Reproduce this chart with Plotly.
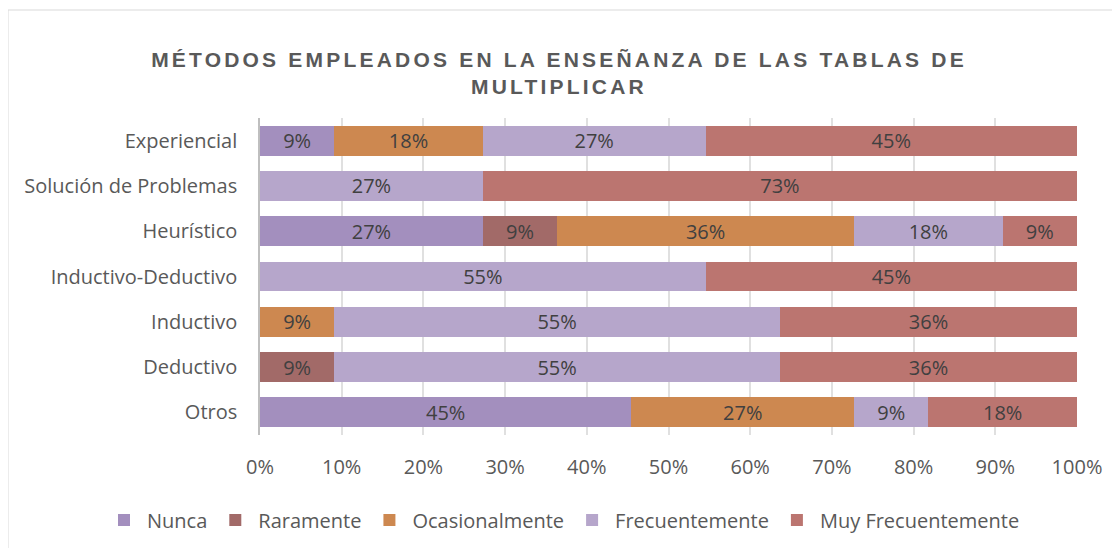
import plotly.graph_objects as go

categories = ["Experiencial", "Solución de Problemas", "Heurístico", "Inductivo-Deductivo",
              "Inductivo", "Deductivo", "Otros"]
series_names = ["Nunca", "Raramente", "Ocasionalmente", "Frecuentemente", "Muy Frecuentemente"]
nunca = [9.09, 0, 27.27, 0, 0, 0, 45.45]
raramente = [0, 0, 9.09, 0, 0, 9.09, 0]
ocasionalmente = [18.18, 0, 36.36, 0, 9.09, 0, 27.27]
frecuentemente = [27.27, 27.27, 18.18, 54.55, 54.55, 54.55, 9.09]
muy_frecuentemente = [45.45, 72.73, 9.09, 45.45, 36.36, 36.36, 18.18]
x_ticks = [0, 10, 20, 30, 40, 50, 60, 70, 80, 90, 100]
x_tick_labels = ["0%", "10%", "20%", "30%", "40%", "50%", "60%", "70%", "80%", "90%", "100%"]

colors = ["#a38fbe", "#a26a68", "#cd8850", "#b6a6cb", "#bb7570"]
all_series = [nunca, raramente, ocasionalmente, frecuentemente, muy_frecuentemente]

W, H = 1120, 548
ML, MT, PW, PH = 252, 110, 817, 317

fig = go.Figure()
for name, vals, col in zip(series_names, all_series, colors):
    fig.add_trace(go.Bar(
        y=categories, x=vals, name=name, orientation="h",
        marker=dict(color=col, line=dict(width=0)),
        text=[f"{round(v)}%" if v > 0 else "" for v in vals],
        textposition="inside", insidetextanchor="middle", textangle=0,
        insidetextfont=dict(family="Open Sans", size=20, color="#404040"),
        constraintext="none",
        hoverinfo="skip",
    ))

title_text = ('<span style="letter-spacing:3.2px"><b>MÉTODOS EMPLEADOS EN LA ENSEÑANZA DE LAS TABLAS DE'
              '<br>MULTIPLICAR</b></span>')

fig.update_layout(
    barmode="stack", bargap=0.34,
    width=W, height=H,
    paper_bgcolor="white", plot_bgcolor="white",
    margin=dict(l=ML, r=W - ML - PW, t=MT, b=H - MT - PH, autoexpand=False),
    title=dict(
        text=title_text,
        x=(559 - 8) / W, xref="container", y=(H - 59) / H, yref="container",
        yanchor="middle", xanchor="center",
        font=dict(family="Liberation Sans", size=21, color="#595959"),
    ),
    legend=dict(
        orientation="h", x=(93 - ML) / PW, xanchor="left", xref="paper",
        y=(MT + PH - 512) / PH, yanchor="middle", yref="paper",
        font=dict(family="Open Sans", size=20, color="#595959"),
        traceorder="normal", itemwidth=36,
    ),
)
fig.update_xaxes(
    range=[0, 100], tickvals=x_ticks, ticktext=x_tick_labels, tickangle=0,
    showgrid=True, gridcolor="rgba(0,0,0,0.12)", gridwidth=1.5,
    layer="above traces", zeroline=False, showline=False,
    tickfont=dict(family="Open Sans", size=20, color="#595959"),
    ticklabelstandoff=18, fixedrange=True, automargin=False,
)
fig.update_yaxes(
    categoryorder="array", categoryarray=categories, autorange="reversed",
    showgrid=False, showline=True, linecolor="#bfbfbf", linewidth=1.5,
    tickfont=dict(family="Open Sans", size=20, color="#595959"),
    ticklabelstandoff=17, automargin=False,
)
fig.add_shape(type="rect", xref="paper", yref="paper",
              x0=(0 - ML) / PW, x1=(W + 20 - ML) / PW,
              y0=-0.6, y1=(MT + PH - 2) / PH,
              line=dict(color="#d9d9d9", width=1), layer="below")

fig.write_html("out.html")
